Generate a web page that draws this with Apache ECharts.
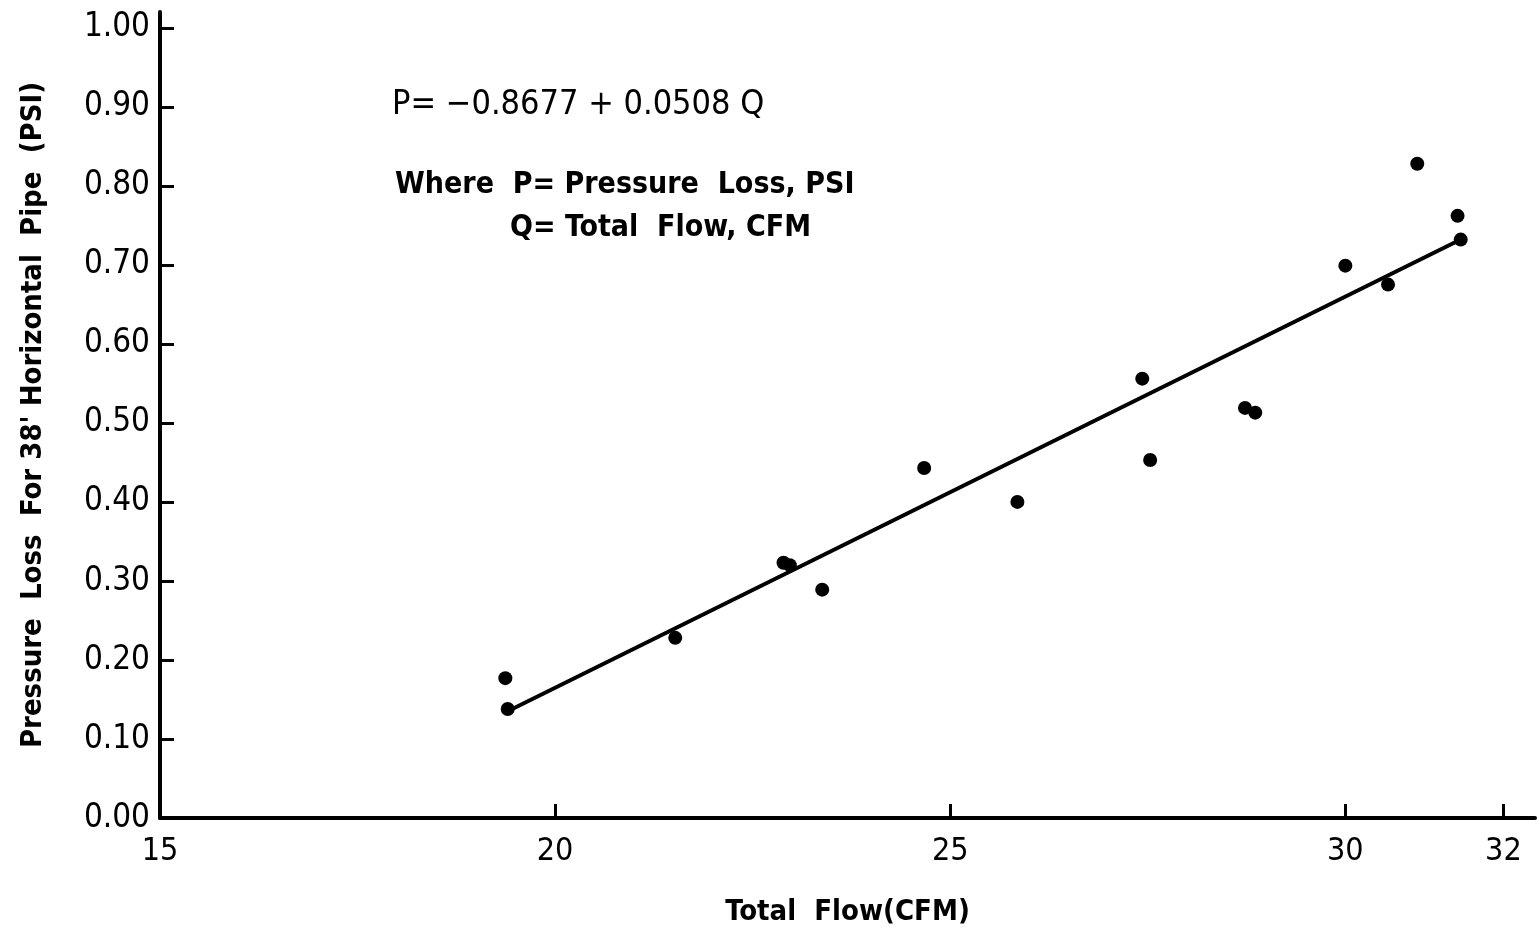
<!DOCTYPE html>
<html>
<head>
<meta charset="utf-8">
<script src="https://cdn.jsdelivr.net/npm/echarts@6/dist/echarts.min.js"></script>
<style>
  html, body { margin: 0; padding: 0; background: #fff; }
  #chart { width: 1537px; height: 930px; }
</style>
</head>
<body>
<div id="chart"></div>
<script>
var flowCFM = [19.37, 19.40, 21.52, 22.89, 22.97, 23.38, 24.67, 25.85, 27.43, 27.53, 28.73, 28.86, 30.00, 30.54, 30.91, 31.42, 31.46];
var lossPSI = [0.177, 0.138, 0.228, 0.323, 0.320, 0.289, 0.443, 0.400, 0.556, 0.453, 0.519, 0.513, 0.699, 0.675, 0.828, 0.762, 0.732];
// fitted line end points
var fitX = [19.40, 31.46];
var fitY = [0.135, 0.732];
var xTicks = [15, 20, 25, 30, 32];
var yTicks = [0, 0.1, 0.2, 0.3, 0.4, 0.5, 0.6, 0.7, 0.8, 0.9, 1.0];

var pts = flowCFM.map(function (x, i) { return [x, lossPSI[i]]; });
var fit = fitX.map(function (x, i) { return [x, fitY[i]]; });

var font = '"DejaVu Sans Condensed", "Liberation Sans Narrow", sans-serif';

var myChart = echarts.init(document.getElementById('chart'));
myChart.setOption({
  backgroundColor: '#fff',
  animation: false,
  grid: { left: 160, right: 2, top: 12, bottom: 112, outerBoundsMode: 'none' },
  xAxis: {
    type: 'value',
    min: 15,
    max: 32.4,
    name: 'Total  Flow(CFM)',
    nameLocation: 'middle',
    nameGap: 80,
    nameTextStyle: { fontFamily: font, fontSize: 29, fontWeight: 'bold', color: '#000' },
    axisLine: { lineStyle: { color: '#000', width: 4 } },
    axisTick: { inside: true, length: 14, lineStyle: { color: '#000', width: 3 }, customValues: xTicks },
    axisLabel: { fontFamily: font, fontSize: 32, color: '#000', margin: 18, customValues: xTicks },
    splitLine: { show: false }
  },
  yAxis: {
    type: 'value',
    min: 0,
    max: 1.02,
    name: "Pressure  Loss  For 38' Horizontal  Pipe  (PSI)",
    nameLocation: 'middle',
    nameRotate: 90,
    nameGap: 112,
    nameTextStyle: { fontFamily: font, fontSize: 29, fontWeight: 'bold', color: '#000' },
    axisLine: { lineStyle: { color: '#000', width: 4 } },
    axisTick: { inside: true, length: 14, lineStyle: { color: '#000', width: 3 }, customValues: yTicks },
    axisLabel: {
      fontFamily: font, fontSize: 33, color: '#000', margin: 10, customValues: yTicks,
      formatter: function (v) { return v.toFixed(2); }
    },
    splitLine: { show: false }
  },
  graphic: [
    { type: 'text', left: 392, top: 88, style: { text: 'P= \u22120.8677 + 0.0508 Q', fontFamily: font, fontSize: 34, fill: '#000' } },
    { type: 'text', left: 395, top: 170, style: { text: 'Where  P= Pressure  Loss, PSI', fontFamily: font, fontSize: 30, fontWeight: 'bold', fill: '#000' } },
    { type: 'text', left: 510, top: 213, style: { text: 'Q= Total  Flow, CFM', fontFamily: font, fontSize: 30, fontWeight: 'bold', fill: '#000' } }
  ],
  series: [
    {
      type: 'line',
      data: fit,
      symbol: 'none',
      lineStyle: { color: '#000', width: 4 },
      z: 2
    },
    {
      type: 'scatter',
      data: pts,
      symbol: 'circle',
      symbolSize: 14,
      itemStyle: { color: '#000', opacity: 1 },
      z: 3
    }
  ]
});
</script>
</body>
</html>
